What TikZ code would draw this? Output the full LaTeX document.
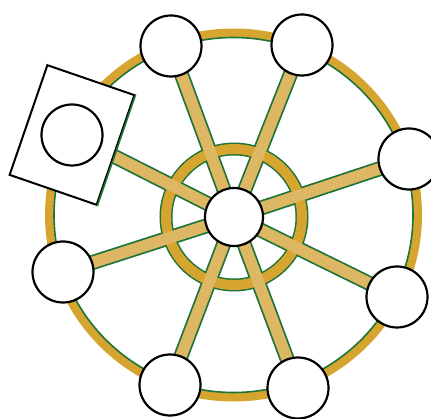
\documentclass[tikz,border=0pt]{standalone}
\usetikzlibrary{backgrounds}
\definecolor{rimGold}{HTML}{D6A530}
\definecolor{spokeGold}{HTML}{DDB763}
\definecolor{rimGreen}{HTML}{1E7438}

\begin{document}
\begin{tikzpicture}[x=1pt,y=-1pt,
  seat/.style={circle,draw=black,line width=2.2pt,fill=white,minimum size=61pt,inner sep=0pt},
  edgeband/.style={draw=rimGreen,line width=15pt},
  goldband/.style={draw=spokeGold,line width=11.5pt}]
  \useasboundingbox (0,0) rectangle (431,419);
  % hub and the seats round the rim
  \node[seat,minimum size=58pt] (hub) at (234,217) {};
  \node[seat] (w1) at (171,46) {};
  \node[seat] (w2) at (302,45) {};
  \node[seat] (w3) at (409,159) {};
  \node[seat] (w4) at (397,297) {};
  \node[seat] (w5) at (298,388) {};
  \node[seat] (w6) at (170,385) {};
  \node[seat] (w7) at (63,272) {};
  % the card on the upper left
  \node[draw=black,line width=2pt,fill=white,rotate=-19,minimum width=92pt,minimum height=116pt] (card) at (72,135) {};
  \draw[rimGreen,line width=1.6pt] (card.north east) -- (card.south east);
  \node[seat,fill=none] (cardseat) at (card.center) {};
  \begin{scope}[on background layer]
    \draw[rimGold,line width=9pt] (233.5,215) ellipse [x radius=184,y radius=182];
    \draw[rimGreen,line width=1.6pt] (233.5,215) ellipse [x radius=179.5,y radius=177.5];
    \draw[rimGreen,line width=13pt] (hub.center) circle [radius=68];
    \foreach \w in {w1,w2,w3,w4,w5,w6,w7,card}
      \draw[edgeband] (hub.center) -- (\w.center);
    \draw[rimGold,line width=10pt] (hub.center) circle [radius=68];
    \foreach \w in {w1,w2,w3,w4,w5,w6,w7,card}
      \draw[goldband] (hub.center) -- (\w.center);
  \end{scope}
\end{tikzpicture}
\end{document}
